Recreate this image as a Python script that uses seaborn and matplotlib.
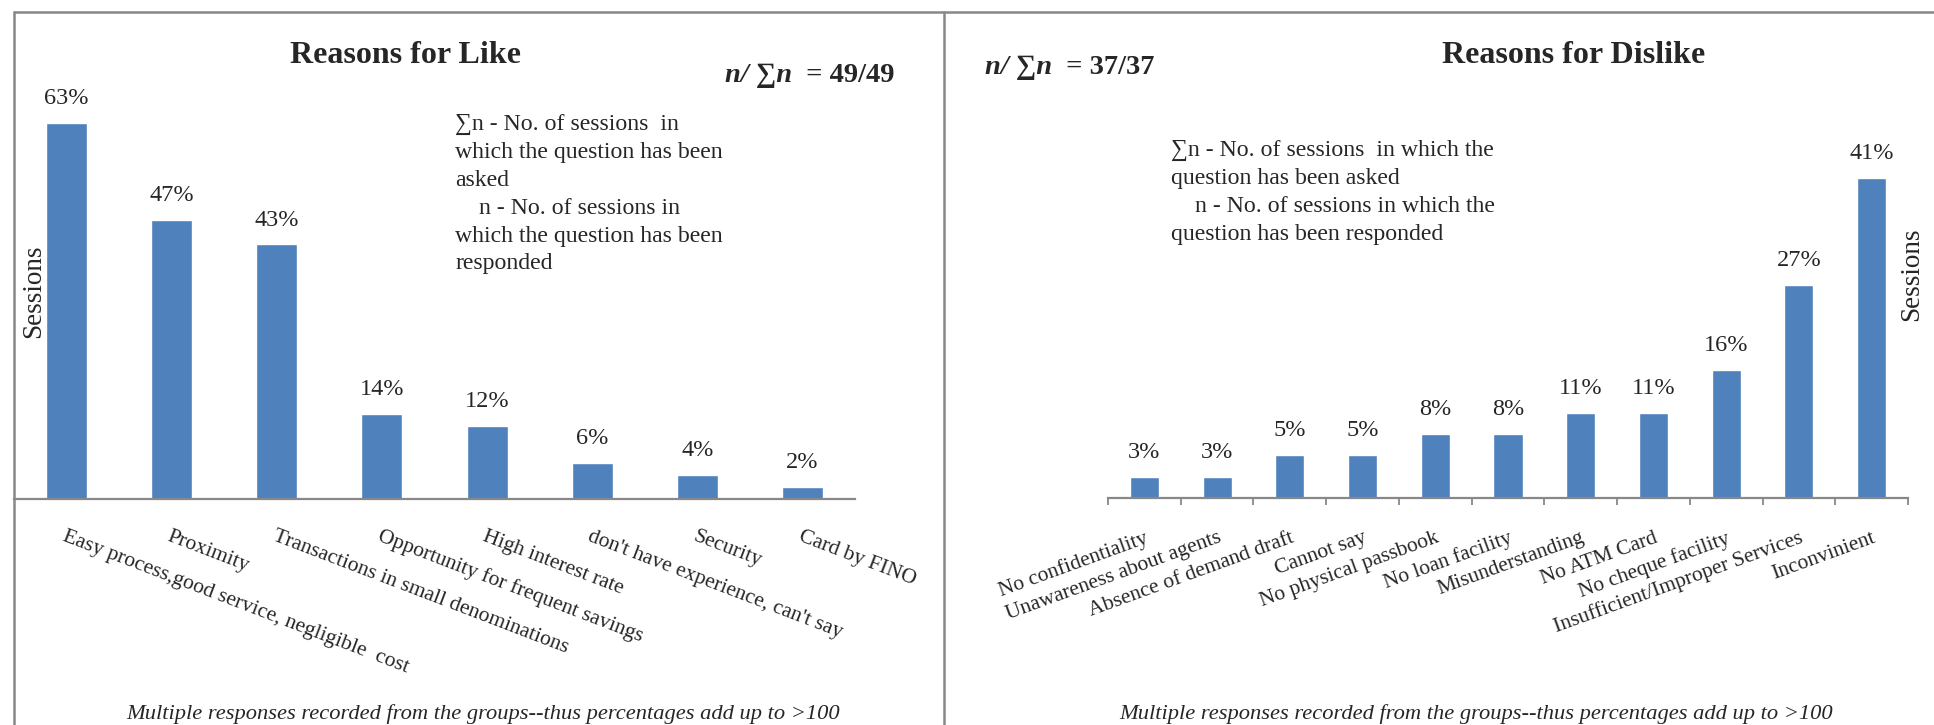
import matplotlib
matplotlib.use("Agg")
import matplotlib.pyplot as plt
from matplotlib.lines import Line2D
import seaborn as sns
import pandas as pd
import numpy as np

# ---------------- data ----------------
like_cats = ["Easy process,good service, negligible  cost", "Proximity",
             "Transactions in small denominations", "Opportunity for frequent savings",
             "High interest rate", "don't have experience, can't say", "Security",
             "Card by FINO"]
like_vals = [63.27, 46.94, 42.86, 14.29, 12.24, 6.12, 4.08, 2.04]

dislike_cats = ["No confidentiality", "Unawareness about agents", "Absence of demand draft",
                "Cannot say", "No physical passbook", "No loan facility",
                "Misunderstanding", "No ATM Card", "No cheque facility",
                "Insufficient/Improper Services", "Inconvinient"]
dislike_vals = [2.70, 2.70, 5.41, 5.41, 8.11, 8.11, 10.81, 10.81, 16.22, 27.03, 40.54]

like_title = "Reasons for Like"
dislike_title = "Reasons for Dislike"
like_n = "49/49"
dislike_n = "37/37"
like_note = ("\u2211n - No. of sessions  in\nwhich the question has been\nasked\n"
             "    n - No. of sessions in\nwhich the question has been\nresponded")
dislike_note = ("\u2211n - No. of sessions  in which the\nquestion has been asked\n"
                "    n - No. of sessions in which the\nquestion has been responded")
footnote = "Multiple responses recorded from the groups--thus percentages add up to >100"
ylabel = "Sessions"

# ---------------- style ----------------
sns.set_theme(style="white")
SERIF = ["Liberation Serif", "DejaVu Serif"]
plt.rcParams["font.family"] = SERIF
BAR = "#4F81BD"
GRAY = "#888888"

W, H = 1934, 725
fig = plt.figure(figsize=(W / 100, H / 100), dpi=100)


def ftext(x, y, s, **kw):
    return fig.text(x / W, 1 - y / H, s, **kw)


def axes_px(x0, x1, ytop, ybot):
    return fig.add_axes([x0 / W, 1 - ybot / H, (x1 - x0) / W, (ybot - ytop) / H])


# frame lines
for (xa, ya, xb, yb) in [(14, 12, W, 12), (14, 12, 14, H), (944, 12, 944, H)]:
    fig.add_artist(Line2D([xa / W, xb / W], [1 - ya / H, 1 - yb / H],
                          transform=fig.transFigure, color=GRAY, lw=1.8))

# ---------------- left chart ----------------
axL = axes_px(14, 855, 60, 499)
dfL = pd.DataFrame({"cat": like_cats, "val": like_vals})
sns.barplot(data=dfL, x="cat", y="val", color=BAR, saturation=1, width=0.39, ax=axL)
axL.set_xlim(-0.5, len(like_cats) - 0.5)
axL.set_ylim(0, 73.9)
for i, v in enumerate(like_vals):
    axL.annotate(f"{v:.0f}%", (i, v), xytext=(0, 10), textcoords="offset points",
                 ha="center", va="bottom", fontsize=17.5)
axL.set_yticks([])
axL.set_xlabel("")
axL.set_ylabel("")
for s in ["top", "left", "right"]:
    axL.spines[s].set_visible(False)
axL.spines["bottom"].set_color(GRAY)
axL.spines["bottom"].set_linewidth(1.6)
axL.tick_params(axis="x", length=0, pad=20, labelsize=15.5)
for lab in axL.get_xticklabels():
    lab.set_rotation(-21)
    lab.set_ha("left")
    lab.set_va("top")
    lab.set_rotation_mode("anchor")
axL.patch.set_alpha(0)

# ---------------- right chart ----------------
axR = axes_px(1108, 1908, 60, 498)
dfR = pd.DataFrame({"cat": dislike_cats, "val": dislike_vals})
sns.barplot(data=dfR, x="cat", y="val", color=BAR, saturation=1, width=0.4, ax=axR)
axR.set_xlim(-0.5, len(dislike_cats) - 0.5)
axR.set_ylim(0, 55.5)
for i, v in enumerate(dislike_vals):
    axR.annotate(f"{v:.0f}%", (i, v), xytext=(0, 10), textcoords="offset points",
                 ha="center", va="bottom", fontsize=17.5)
axR.set_yticks([])
axR.set_xlabel("")
axR.set_ylabel("")
for s in ["top", "left", "right"]:
    axR.spines[s].set_visible(False)
axR.spines["bottom"].set_color(GRAY)
axR.spines["bottom"].set_linewidth(1.6)
axR.set_xticks(np.arange(-0.5, len(dislike_cats), 1.0), minor=True)
axR.tick_params(axis="x", which="minor", length=5, width=1.3, color=GRAY, direction="out",
                bottom=True)
axR.tick_params(axis="x", which="major", length=0, pad=22, labelsize=15.5)
for lab in axR.get_xticklabels():
    lab.set_rotation(20)
    lab.set_ha("right")
    lab.set_va("top")
    lab.set_rotation_mode("anchor")
axR.patch.set_alpha(0)

# ---------------- texts ----------------
ftext(406, 63, like_title, ha="center", va="baseline", fontsize=23, fontweight="bold")
ftext(1574, 63, dislike_title, ha="center", va="baseline", fontsize=23, fontweight="bold")


def n_label(x, y, val):
    t1 = ftext(x, y, "n/ \u2211n", ha="left", va="center", fontsize=20.5,
               fontweight="bold", fontstyle="italic")
    fig.axes[0].annotate("  = " + val, xy=(1, 0.5), xycoords=t1, ha="left",
                         va="center", fontsize=20.5, fontweight="bold",
                         annotation_clip=False)


n_label(725, 76, like_n)
n_label(985, 68, dislike_n)

ftext(455, 114, like_note, ha="left", va="top", fontsize=17.1, linespacing=1.43)
ftext(1171, 140, dislike_note, ha="left", va="top", fontsize=17.1, linespacing=1.43)

ftext(483, 714, footnote, ha="center", va="center", fontsize=16.2, fontstyle="italic")
ftext(1476, 714, footnote, ha="center", va="center", fontsize=16.2, fontstyle="italic")

ftext(34, 291, ylabel, ha="center", va="center", rotation=90, fontsize=19.5)
ftext(1912, 274, ylabel, ha="center", va="center", rotation=90, fontsize=19.5)

fig.savefig("out.png", dpi=100)
